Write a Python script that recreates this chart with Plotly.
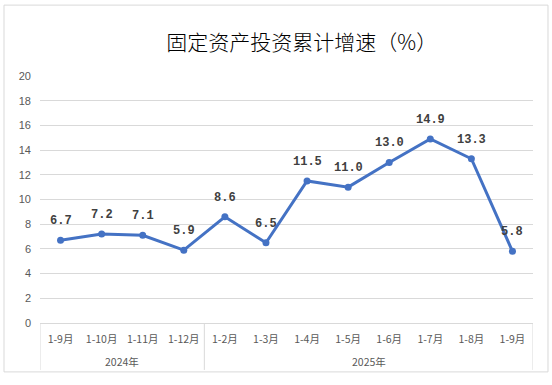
import plotly.graph_objects as go

years = ["2024年"] * 4 + ["2025年"] * 8
months = ["1-9月", "1-10月", "1-11月", "1-12月", "1-2月", "1-3月", "1-4月", "1-5月", "1-6月", "1-7月", "1-8月", "1-9月"]
values = [6.7, 7.2, 7.1, 5.9, 8.6, 6.5, 11.5, 11.0, 13.0, 14.9, 13.3, 5.8]
labels = ["6.7", "7.2", "7.1", "5.9", "8.6", "6.5", "11.5", "11.0", "13.0", "14.9", "13.3", "5.8"]
yticks = [0, 2, 4, 6, 8, 10, 12, 14, 16, 18, 20]

idx = list(range(len(months)))
grid = "#D9D9D9"

fig = go.Figure()
fig.add_trace(go.Scatter(
    x=idx, y=values,
    mode="lines+markers",
    line=dict(color="#4472C4", width=3),
    marker=dict(color="#4472C4", size=7),
    cliponaxis=False,
    showlegend=False,
    hoverinfo="skip",
))

# year groups: boundaries and centers derived from the years list
groups = []
start = 0
for i in range(1, len(years) + 1):
    if i == len(years) or years[i] != years[start]:
        groups.append((years[start], start, i - 1))
        start = i

shapes = [dict(type="rect", xref="paper", yref="paper", x0=-0.073, x1=1.0304, y0=-0.198, y1=1.287,
               line=dict(color=grid, width=1))]
annotations = []
bounds = sorted(set([g[1] - 0.5 for g in groups] + [g[2] + 0.5 for g in groups]))
for b in bounds:
    shapes.append(dict(type="line", xref="x", yref="paper", x0=b, x1=b, y0=0, y1=-0.19,
                       line=dict(color=grid, width=1)))
for name, s, e in groups:
    annotations.append(dict(text=name, x=(s + e) / 2, xref="x", y=-0.155, yref="paper",
                            showarrow=False, yanchor="middle",
                            font=dict(family="Noto Sans CJK SC", size=10.5, color="#595959")))
for xi, v, t in zip(idx, values, labels):
    annotations.append(dict(text=t, x=xi, y=v, xref="x", yref="y", showarrow=False,
                            yanchor="middle", yshift=19,
                            font=dict(family="Liberation Mono, DejaVu Sans Mono", size=12,
                                      color="#404040", weight="bold")))

fig.update_layout(
    width=552, height=385,
    margin=dict(l=40, r=19, t=76, b=62, autoexpand=False),
    paper_bgcolor="white", plot_bgcolor="white",
    title=dict(text="固定资产投资累计增速（%）", xref="paper", x=0.531, xanchor="center",
               y=0.888, yanchor="middle", automargin=False,
               font=dict(family="Noto Sans CJK SC", size=21, color="#000000", weight=300)),
    font=dict(family="Noto Sans CJK SC", size=11, color="#595959"),
    xaxis=dict(range=[-0.5, len(months) - 0.5], tickvals=idx, ticktext=months, tickangle=0,
               showgrid=False, zeroline=False, showline=True, linecolor=grid, linewidth=1,
               ticks="", ticklabelstandoff=6, automargin=False,
               tickfont=dict(family="Noto Sans CJK SC", size=10.5, color="#595959")),
    yaxis=dict(range=[0, 20], tickvals=yticks, showgrid=True, gridcolor=grid, gridwidth=1,
               zeroline=False, showline=False, ticks="", ticklabelstandoff=8, automargin=False,
               tickfont=dict(family="Liberation Sans", size=11, color="#595959")),
    shapes=shapes,
    annotations=annotations,
)

fig.write_html("out.html", config={"displayModeBar": False},
               post_script="document.body.style.margin='0';document.body.style.overflow='hidden';")
